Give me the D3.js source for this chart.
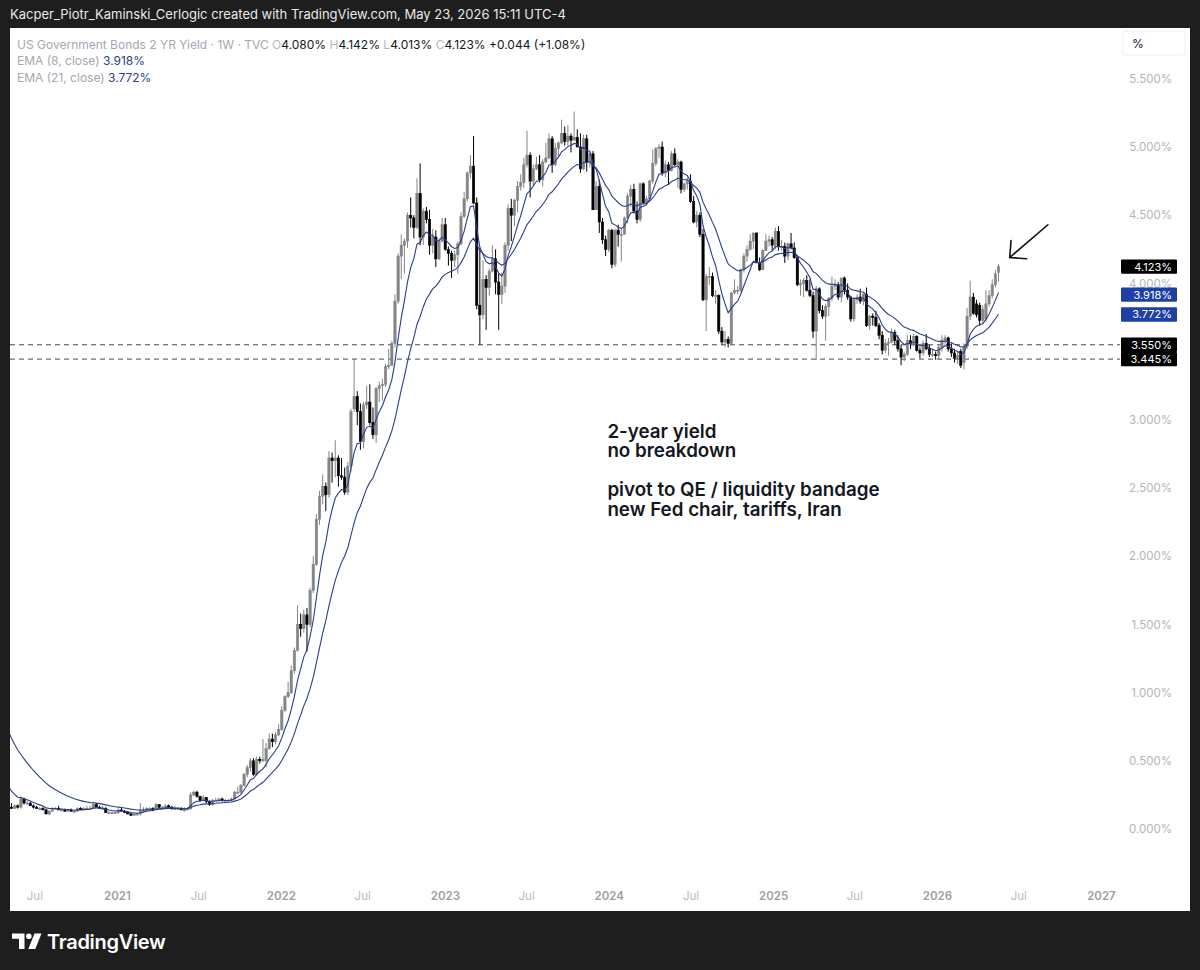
<!DOCTYPE html>
<html><head><meta charset="utf-8">
<script src="https://cdn.jsdelivr.net/npm/d3@7"></script>
<style>
html,body{margin:0;padding:0;background:#1e1e1e;}
svg{display:block;}
text{font-family:Inter,"Noto Sans",sans-serif;}
</style></head><body>
<svg id="chart" width="1200" height="970"></svg>
<script>
// ---------------- DATA ----------------
const firstWeek = "2020-01-06"; // Monday of first weekly bar
// weekly bars [open, high, low, close] in %
const bars2020 = [
[1.58,1.60,1.52,1.57],[1.57,1.59,1.55,1.56],[1.56,1.57,1.48,1.49],[1.49,1.51,1.30,1.31],
[1.31,1.44,1.30,1.40],[1.40,1.44,1.38,1.42],[1.42,1.43,1.34,1.35],[1.35,1.36,0.85,0.91],
[0.91,0.93,0.46,0.51],[0.51,0.60,0.37,0.49],[0.49,0.53,0.30,0.32],[0.32,0.40,0.27,0.30],[0.30,0.30,0.22,0.23],
[0.23,0.28,0.22,0.23],[0.23,0.25,0.19,0.20],[0.20,0.24,0.19,0.22],[0.22,0.24,0.19,0.20],
[0.20,0.21,0.13,0.16],[0.16,0.19,0.15,0.15],[0.15,0.18,0.15,0.17],[0.17,0.18,0.15,0.16],
[0.16,0.24,0.15,0.22],[0.22,0.23,0.18,0.19],[0.19,0.21,0.18,0.19],[0.19,0.20,0.17,0.17],[0.17,0.18,0.15,0.16],
[0.16,0.17,0.15,0.15],[0.15,0.16,0.14,0.15],[0.15,0.16,0.14,0.14],[0.14,0.15,0.11,0.11],
[0.11,0.14,0.10,0.13],[0.13,0.16,0.13,0.15],[0.15,0.16,0.14,0.15],[0.15,0.17,0.14,0.14],[0.14,0.15,0.13,0.14],
[0.14,0.15,0.13,0.13],[0.13,0.15,0.13,0.14],[0.14,0.15,0.13,0.13],[0.13,0.14,0.12,0.13],
[0.13,0.16,0.13,0.15],[0.15,0.16,0.14,0.14],[0.14,0.16,0.14,0.15],[0.15,0.17,0.14,0.15],
[0.15,0.17,0.14,0.15],[0.15,0.20,0.15,0.18],[0.18,0.19,0.16,0.16],[0.16,0.17,0.15,0.15],[0.15,0.17,0.14,0.15],
[0.15,0.16,0.12,0.12],[0.12,0.13,0.11,0.12],[0.12,0.13,0.11,0.12],[0.12,0.13,0.11,0.12]
];
const bars2021 = [
[0.12,0.15,0.11,0.14],[0.14,0.16,0.13,0.13],[0.13,0.14,0.12,0.12],[0.12,0.13,0.11,0.11],
[0.11,0.12,0.10,0.10],[0.10,0.12,0.10,0.11],[0.11,0.12,0.10,0.11],[0.11,0.19,0.10,0.13],
[0.13,0.16,0.12,0.14],[0.14,0.16,0.13,0.15],[0.15,0.16,0.13,0.15],[0.15,0.16,0.13,0.14],[0.14,0.19,0.14,0.18],
[0.18,0.18,0.15,0.16],[0.16,0.17,0.15,0.16],[0.16,0.18,0.15,0.17],[0.17,0.18,0.15,0.16],
[0.16,0.17,0.14,0.15],[0.15,0.17,0.14,0.15],[0.15,0.16,0.14,0.15],[0.15,0.16,0.14,0.14],[0.14,0.16,0.13,0.14],
[0.14,0.16,0.14,0.15],[0.15,0.27,0.14,0.25],[0.25,0.28,0.24,0.27],[0.27,0.28,0.23,0.24],
[0.24,0.24,0.20,0.21],[0.21,0.25,0.21,0.23],[0.23,0.23,0.19,0.20],[0.20,0.21,0.17,0.18],
[0.18,0.22,0.17,0.21],[0.21,0.23,0.20,0.21],[0.21,0.23,0.20,0.22],[0.22,0.23,0.20,0.21],[0.21,0.22,0.19,0.21],
[0.21,0.22,0.20,0.21],[0.21,0.23,0.20,0.22],[0.22,0.28,0.21,0.27],[0.27,0.31,0.26,0.27],
[0.27,0.33,0.26,0.32],[0.32,0.41,0.31,0.40],[0.40,0.47,0.38,0.45],[0.45,0.52,0.42,0.50],
[0.50,0.52,0.39,0.40],[0.40,0.53,0.39,0.51],[0.51,0.53,0.48,0.50],[0.51,0.66,0.49,0.50],[0.50,0.63,0.45,0.59],
[0.59,0.70,0.58,0.66],[0.66,0.70,0.60,0.64],[0.64,0.71,0.62,0.69],[0.69,0.77,0.68,0.73]
];
const bars2022 = [
[0.73,0.90,0.72,0.87],[0.87,0.98,0.86,0.97],[0.97,1.08,0.96,1.00],[1.00,1.20,0.99,1.16],[1.16,1.33,1.14,1.31],
[1.31,1.64,1.30,1.50],[1.50,1.58,1.41,1.47],[1.47,1.61,1.44,1.57],[1.57,1.62,1.30,1.50],
[1.50,1.77,1.48,1.75],[1.75,2.00,1.73,1.94],[1.94,2.31,1.93,2.27],[2.27,2.48,2.23,2.44],
[2.44,2.60,2.38,2.51],[2.51,2.54,2.33,2.45],[2.45,2.77,2.43,2.72],[2.72,2.76,2.54,2.70],
[2.70,2.85,2.58,2.72],[2.72,2.74,2.51,2.59],[2.59,2.72,2.56,2.58],[2.58,2.65,2.45,2.47],[2.47,2.69,2.45,2.66],
[2.66,3.08,2.62,3.06],[3.08,3.45,3.06,3.17],[3.17,3.21,2.96,3.06],[3.06,3.12,2.78,2.84],
[2.84,3.13,2.79,3.11],[3.11,3.25,3.08,3.13],[3.13,3.26,2.96,2.98],[2.98,3.09,2.86,2.89],
[2.89,3.24,2.83,3.23],[3.23,3.28,3.13,3.25],[3.25,3.30,3.14,3.26],[3.26,3.41,3.24,3.39],[3.39,3.52,3.37,3.40],
[3.40,3.58,3.40,3.56],[3.56,3.92,3.53,3.87],[3.87,4.22,3.85,4.20],[4.20,4.36,4.03,4.28],
[4.28,4.33,4.07,4.31],[4.31,4.52,4.26,4.50],[4.50,4.63,4.41,4.48],[4.48,4.50,4.33,4.41],[4.41,4.77,4.40,4.66],
[4.66,4.88,4.28,4.34],[4.34,4.55,4.28,4.53],[4.53,4.56,4.44,4.47],[4.47,4.54,4.21,4.28],
[4.28,4.40,4.22,4.34],[4.34,4.39,4.12,4.18],[4.18,4.33,4.17,4.31],[4.31,4.48,4.30,4.43]
];
const bars2023 = [
[4.43,4.48,4.24,4.25],[4.25,4.27,4.13,4.22],[4.22,4.24,4.04,4.17],[4.17,4.24,4.12,4.21],[4.21,4.31,4.07,4.29],
[4.29,4.52,4.28,4.49],[4.49,4.67,4.48,4.62],[4.62,4.82,4.60,4.81],[4.81,4.94,4.77,4.86],
[4.86,5.08,4.58,4.59],[4.59,4.63,3.81,3.84],[3.84,4.26,3.55,3.77],[3.77,4.17,3.74,4.03],
[4.03,4.06,3.66,3.97],[3.97,4.11,3.91,4.09],[4.09,4.28,4.08,4.18],[4.18,4.25,3.92,4.01],
[4.01,4.07,3.66,3.92],[3.92,4.08,3.85,3.98],[3.98,4.30,3.93,4.28],[4.28,4.58,4.24,4.55],[4.55,4.62,4.31,4.50],
[4.50,4.62,4.42,4.61],[4.61,4.75,4.52,4.71],[4.71,4.80,4.68,4.74],[4.74,4.92,4.70,4.87],
[4.87,5.12,4.85,4.94],[4.94,4.96,4.63,4.75],[4.75,4.87,4.72,4.84],[4.84,4.93,4.83,4.87],[4.87,4.94,4.74,4.76],
[4.76,4.91,4.71,4.89],[4.89,5.03,4.88,4.92],[4.92,5.10,4.91,5.06],[5.06,5.08,4.81,4.87],
[4.87,5.03,4.86,4.99],[4.99,5.04,4.92,5.03],[5.03,5.20,5.02,5.10],[5.10,5.15,5.01,5.04],
[5.04,5.16,5.01,5.08],[5.08,5.10,4.96,5.05],[5.05,5.26,5.05,5.07],[5.07,5.13,5.00,5.00],[5.00,5.10,4.81,4.84],
[4.84,5.09,4.83,5.06],[5.06,5.09,4.82,4.89],[4.89,4.96,4.85,4.95],[4.95,4.97,4.54,4.54],
[4.54,4.75,4.54,4.71],[4.71,4.76,4.37,4.45],[4.45,4.48,4.29,4.32],[4.32,4.35,4.20,4.25]
];
const bars2024 = [
[4.25,4.40,4.23,4.39],[4.39,4.40,4.11,4.14],[4.14,4.40,4.12,4.39],[4.39,4.43,4.27,4.36],[4.36,4.40,4.16,4.36],
[4.36,4.49,4.36,4.48],[4.48,4.66,4.44,4.64],[4.64,4.72,4.56,4.69],[4.69,4.73,4.52,4.53],
[4.53,4.60,4.44,4.47],[4.47,4.74,4.45,4.73],[4.73,4.74,4.58,4.59],[4.59,4.64,4.57,4.62],
[4.62,4.76,4.61,4.75],[4.75,4.98,4.73,4.88],[4.88,5.00,4.86,4.99],[4.99,5.02,4.92,5.00],[5.00,5.04,4.79,4.81],
[4.81,4.90,4.78,4.87],[4.87,4.89,4.72,4.83],[4.83,4.97,4.82,4.95],[4.95,4.99,4.86,4.87],
[4.87,4.91,4.70,4.89],[4.89,4.90,4.66,4.69],[4.69,4.74,4.67,4.73],[4.73,4.78,4.69,4.75],
[4.75,4.80,4.59,4.60],[4.60,4.64,4.44,4.45],[4.45,4.53,4.41,4.50],[4.50,4.52,4.34,4.36],[4.36,4.40,3.87,3.88],
[3.88,4.07,3.65,4.05],[4.05,4.12,3.99,4.05],[4.05,4.08,3.90,3.91],[3.91,3.95,3.85,3.91],
[3.91,3.92,3.63,3.65],[3.65,3.68,3.55,3.57],[3.57,3.65,3.53,3.59],[3.59,3.61,3.53,3.56],[3.56,3.94,3.55,3.93],
[3.93,4.03,3.92,3.95],[3.95,3.98,3.92,3.95],[3.95,4.11,3.94,4.10],[4.10,4.22,4.08,4.20],
[4.20,4.28,4.16,4.25],[4.25,4.36,4.24,4.31],[4.31,4.37,4.25,4.37],[4.37,4.37,4.15,4.15],
[4.15,4.19,4.09,4.10],[4.10,4.25,4.10,4.24],[4.24,4.36,4.24,4.31],[4.31,4.35,4.27,4.32],[4.32,4.34,4.24,4.28]
];
const bars2025 = [
[4.28,4.41,4.25,4.38],[4.38,4.42,4.24,4.27],[4.27,4.32,4.24,4.27],[4.27,4.30,4.15,4.20],
[4.20,4.30,4.17,4.29],[4.29,4.37,4.25,4.26],[4.26,4.30,4.18,4.19],[4.19,4.20,3.98,3.99],
[3.99,4.03,3.91,4.00],[4.00,4.04,3.90,4.02],[4.02,4.06,3.94,3.95],[3.95,4.03,3.90,3.91],[3.91,3.94,3.60,3.65],
[3.65,3.98,3.44,3.96],[3.96,3.97,3.78,3.80],[3.80,3.84,3.74,3.76],[3.76,3.85,3.58,3.83],
[3.83,3.90,3.76,3.89],[3.89,4.05,3.87,3.98],[3.98,4.03,3.95,3.99],[3.99,4.01,3.88,3.90],
[3.90,4.04,3.86,4.04],[4.04,4.05,3.92,3.95],[3.95,4.00,3.88,3.90],[3.90,3.91,3.72,3.74],[3.74,3.90,3.72,3.88],
[3.88,3.92,3.85,3.90],[3.90,3.96,3.85,3.87],[3.87,3.93,3.84,3.92],[3.92,3.97,3.68,3.69],
[3.69,3.77,3.66,3.76],[3.76,3.78,3.69,3.75],[3.75,3.80,3.68,3.69],[3.69,3.71,3.59,3.62],
[3.62,3.65,3.48,3.51],[3.51,3.59,3.49,3.56],[3.56,3.60,3.47,3.57],[3.57,3.67,3.56,3.64],[3.64,3.66,3.55,3.58],
[3.58,3.62,3.50,3.52],[3.52,3.55,3.40,3.46],[3.46,3.50,3.43,3.48],[3.48,3.62,3.47,3.58],
[3.58,3.62,3.52,3.56],[3.56,3.63,3.54,3.61],[3.61,3.62,3.50,3.51],[3.51,3.53,3.45,3.49],
[3.49,3.58,3.47,3.56],[3.56,3.63,3.51,3.52],[3.52,3.55,3.46,3.48],[3.48,3.52,3.46,3.48],[3.48,3.50,3.44,3.47]
];
const bars2026 = [
[3.47,3.55,3.44,3.53],[3.53,3.62,3.50,3.58],[3.58,3.62,3.54,3.60],[3.60,3.61,3.50,3.52],
[3.52,3.56,3.46,3.49],[3.49,3.52,3.42,3.45],[3.45,3.50,3.41,3.47],[3.50,3.52,3.38,3.40],
[3.42,3.56,3.37,3.54],[3.54,3.82,3.52,3.76],[3.76,4.02,3.73,3.90],[3.90,3.93,3.77,3.78],[3.85,3.88,3.75,3.77],
[3.84,3.86,3.69,3.73],[3.81,3.84,3.71,3.73],[3.74,3.95,3.72,3.85],[3.85,3.95,3.83,3.91],
[3.91,4.03,3.89,3.99],[3.99,4.10,3.97,4.07],[4.080,4.142,4.013,4.123]
];

const emaLengths = [8, 21];
const yTicks = [0,0.5,1,1.5,2,2.5,3,3.5,4,4.5,5,5.5];
const xTickDates = ["2020-07-01","2021-01-01","2021-07-01","2022-01-01","2022-07-01","2023-01-01","2023-07-01","2024-01-01","2024-07-01","2025-01-01","2025-07-01","2026-01-01","2026-07-01","2027-01-01"];
const xTickLabels = ["Jul","2021","Jul","2022","Jul","2023","Jul","2024","Jul","2025","Jul","2026","Jul","2027"];
const levels = [3.55, 3.445];
const titleText = "Kacper_Piotr_Kaminski_Cerlogic created with TradingView.com, May 23, 2026 15:11 UTC-4";
const symbolText = "US Government Bonds 2 YR Yield · 1W · TVC";
const ohlcLabels = ["O","H","L","C"];
const ohlcValues = ["4.080%","4.142%","4.013%","4.123%"];
const changeText = "+0.044 (+1.08%)";
const emaLegend = ["EMA (8, close)","EMA (21, close)"];
const emaLegendValues = ["3.918%","3.772%"];
const noteLines = ["2-year yield","no breakdown","","pivot to QE / liquidity bandage","new Fed chair, tariffs, Iran"];
const noteAnchor = ["2023-12-29", 2.87];
const arrowFrom = ["2026-09-05", 4.43];
const arrowTo = ["2026-06-12", 4.19];

// ---------------- BUILD ----------------
const parse = d3.utcParse("%Y-%m-%d");
const allBars = [].concat(bars2020,bars2021,bars2022,bars2023,bars2024,bars2025,bars2026);
const start = parse(firstWeek);
const data = allBars.map((b,i)=>({date:d3.utcDay.offset(start,7*i),o:b[0],h:b[1],l:b[2],c:b[3]}));

function ema(vals,n){const k=2/(n+1);let out=[],p;vals.forEach((v,i)=>{p=(i===0)?v:v*k+p*(1-k);out.push(p);});return out;}

const svg = d3.select("#chart");
const W=1200,H=970;
const PL=10, PT=28, PR=1190, PB=911, plotR=1120, plotB=882;

svg.append("rect").attr("width",W).attr("height",H).attr("fill","#1e1e1e");
svg.append("text").attr("x",10).attr("y",19).attr("fill","#e8e8e8").attr("font-size",13).text(titleText);
svg.append("rect").attr("x",PL).attr("y",PT).attr("width",PR-PL).attr("height",PB-PT).attr("fill","#ffffff");

const x = d3.scaleUtc().domain([parse("2021-01-01"),parse("2026-01-01")]).range([117,937]);
const y = d3.scaleLinear().domain([0,5.5]).range([829,78.8]);

svg.append("defs").append("clipPath").attr("id","plotclip").append("rect")
  .attr("x",PL).attr("y",PT).attr("width",plotR-PL).attr("height",plotB-PT);
const plot = svg.append("g").attr("clip-path","url(#plotclip)");

// dashed levels
plot.selectAll("line.level").data(levels).enter().append("line")
  .attr("x1",PL).attr("x2",plotR).attr("y1",d=>y(d)).attr("y2",d=>y(d))
  .attr("stroke","#4a4a4a").attr("stroke-width",1).attr("stroke-dasharray","5,4");

// candles
const GRAY="#858585", BLACK="#000000";
const bw=2.3;
const cg = plot.append("g");
data.forEach((d,i)=>{
  const prev = i>0?data[i-1].c:d.o;
  const col = d.c>=prev?GRAY:BLACK;
  const fill = (d.c>d.o && col===BLACK)?"#ffffff":col;
  const cx = x(d.date);
  cg.append("line").attr("x1",cx).attr("x2",cx).attr("y1",y(d.h)).attr("y2",y(d.l))
    .attr("stroke",col).attr("stroke-width",1);
  const top=y(Math.max(d.o,d.c)), bot=y(Math.min(d.o,d.c));
  cg.append("rect").attr("x",cx-bw/2).attr("y",top).attr("width",bw).attr("height",Math.max(1,bot-top))
    .attr("fill",fill).attr("stroke",col).attr("stroke-width",0.6);
});

// EMAs
const closes = data.map(d=>d.c);
emaLengths.forEach(n=>{
  const e = ema(closes,n);
  const pts = data.map((d,i)=>({date:d.date,v:e[i]}));
  plot.append("path").datum(pts).attr("fill","none").attr("stroke","#2b3d8f").attr("stroke-width",1.1)
    .attr("d",d3.line().x(p=>x(p.date)).y(p=>y(p.v)));
});

// annotation text
const nt = svg.append("text").attr("fill","#131722").attr("font-size",18.8).attr("font-weight",600);
noteLines.forEach((t,i)=>{
  nt.append("tspan").attr("x",x(parse(noteAnchor[0]))).attr("y",y(noteAnchor[1])+i*19.5).text(t||" ");
});

// arrow
const ax1=x(parse(arrowFrom[0])), ay1=y(arrowFrom[1]), ax2=x(parse(arrowTo[0])), ay2=y(arrowTo[1]);
const ang=Math.atan2(ay1-ay2, ax1-ax2), hl=17, ha=Math.PI/4;
svg.append("path").attr("fill","none").attr("stroke","#111").attr("stroke-width",1.6).attr("stroke-linecap","round")
  .attr("d",`M${ax1},${ay1}L${ax2},${ay2}M${ax2+hl*Math.cos(ang-ha)},${ay2+hl*Math.sin(ang-ha)}L${ax2},${ay2}L${ax2+hl*Math.cos(ang+ha)},${ay2+hl*Math.sin(ang+ha)}`);

// price labels (tick labels that sit fully under them are hidden, as in the reference)
const priceLabels = [
  {v:4.123,t:"4.123%",bg:"#000000"},
  {v:+emaLegendValues[0].replace("%",""),t:emaLegendValues[0],bg:"#1e3fa6"},
  {v:+emaLegendValues[1].replace("%",""),t:emaLegendValues[1],bg:"#1e3fa6"},
  {v:levels[0],t:levels[0].toFixed(3)+"%",bg:"#000000"},
  {v:levels[1],t:levels[1].toFixed(3)+"%",bg:"#000000"}
];
const covered = t => priceLabels.some(p=>Math.abs(y(p.v)-y(t))<8);

// y axis
const yAxis = d3.axisRight(y).tickValues(yTicks.filter(t=>!covered(t))).tickFormat(d=>d.toFixed(3)+"%").tickSize(0);
const yg = svg.append("g").attr("transform","translate(1172,0)").call(yAxis);
yg.select(".domain").remove();
yg.selectAll("text").attr("x",0).attr("text-anchor","end").attr("fill","#b2b5be")
  .attr("font-size",11.5).attr("font-family","Inter,'Noto Sans',sans-serif");

const pl = svg.append("g");
priceLabels.forEach(p=>{
  pl.append("rect").attr("x",1121).attr("y",y(p.v)-7.2).attr("width",56).attr("height",14.4).attr("rx",1).attr("fill",p.bg);
  pl.append("text").attr("x",1172).attr("y",y(p.v)+4).attr("text-anchor","end").attr("fill","#fff")
    .attr("font-size",11).text(p.t);
});

// % box
svg.append("rect").attr("x",1123).attr("y",31).attr("width",62).attr("height",24).attr("rx",3)
  .attr("fill","#fff").attr("stroke","#f0f0f0");
svg.append("text").attr("x",1132).attr("y",48).attr("font-size",12).attr("fill","#131722").text("%");

// x axis
const xAxis = d3.axisBottom(x).tickValues(xTickDates.map(parse)).tickFormat((d,i)=>xTickLabels[i]).tickSize(0);
const xg = svg.append("g").attr("transform","translate(0,889)").call(xAxis);
xg.select(".domain").remove();
xg.selectAll("text").attr("font-size",11.5).attr("font-family","Inter,'Noto Sans',sans-serif")
  .attr("fill",(d,i)=>xTickLabels[i]==="Jul"?"#b8bbc2":"#9b9ea6")
  .attr("font-weight",(d,i)=>xTickLabels[i]==="Jul"?400:600);

// legend
const lg = svg.append("text").attr("x",17).attr("y",48.5).attr("font-size",12);
lg.append("tspan").attr("fill","#a4a7b0").text(symbolText+"  ");
ohlcLabels.forEach((l,i)=>{
  lg.append("tspan").attr("fill","#b4b7be").text(l);
  lg.append("tspan").attr("fill","#131722").text(ohlcValues[i]+"  ");
});
lg.append("tspan").attr("fill","#131722").text(changeText);
emaLegend.forEach((t,i)=>{
  const e = svg.append("text").attr("x",17).attr("y",65+i*16.5).attr("font-size",12);
  e.append("tspan").attr("fill","#a4a7b0").text(t+"  ");
  e.append("tspan").attr("fill","#2b3d8f").text(emaLegendValues[i]);
});

// TradingView logo
const logo = svg.append("g").attr("fill","#ffffff");
logo.append("path").attr("d","M12,933.5h12.5v15.5h-5.5v-10.3h-7z");
logo.append("circle").attr("cx",28.8).attr("cy",936.3).attr("r",2.8);
logo.append("path").attr("d","M34.5,933.5h7l-6.2,15.5h-7z");
svg.append("text").attr("x",47).attr("y",948.5).attr("font-size",20).attr("font-weight",600)
  .attr("fill","#ffffff").attr("letter-spacing",-0.3).text("TradingView");
</script>
</body></html>
